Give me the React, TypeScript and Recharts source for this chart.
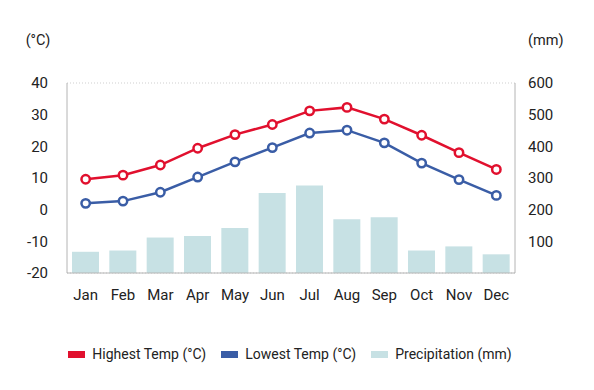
import { Bar, CartesianGrid, ComposedChart, Legend, Line, XAxis, YAxis } from "recharts";

const months = ["Jan", "Feb", "Mar", "Apr", "May", "Jun", "Jul", "Aug", "Sep", "Oct", "Nov", "Dec"];
const highTemp = [9.6, 10.9, 14.1, 19.4, 23.7, 26.9, 31.2, 32.3, 28.6, 23.5, 18.0, 12.7];
const lowTemp = [2.0, 2.7, 5.5, 10.3, 15.1, 19.6, 24.2, 25.1, 21.1, 14.7, 9.5, 4.5];
const precipitation = [67, 71, 112, 117, 142, 253, 276, 170, 176, 71, 84, 59];
const tempTicks = [-20, -10, 0, 10, 20, 30, 40];
const rainTicks = [100, 200, 300, 400, 500, 600];

const RED = "#e1102e";
const BLUE = "#3a5da6";
const RAIN = "#c7e1e4";
const TEXT = "#222";
const FONT = "Roboto, 'Noto Sans', sans-serif";

const data = months.map((month, i) => ({
  month,
  high: highTemp[i],
  low: lowTemp[i],
  rain: precipitation[i],
}));

const legendItems = [
  { label: "Highest Temp (°C)", color: RED },
  { label: "Lowest Temp (°C)", color: BLUE },
  { label: "Precipitation (mm)", color: RAIN },
];

function ChartLegend() {
  return (
    <div style={{ display: "flex", justifyContent: "center", gap: 15, fontFamily: FONT, fontSize: 14, color: TEXT }}>
      {legendItems.map((item) => (
        <div key={item.label} style={{ display: "flex", alignItems: "center", gap: 7 }}>
          <span style={{ display: "inline-block", width: 17, height: 7, background: item.color }} />
          <span>{item.label}</span>
        </div>
      ))}
    </div>
  );
}

function unitLabel(text: string, side: "left" | "right") {
  return (props: any) => {
    const vb = props.viewBox || {};
    const x = side === "left" ? vb.x + 38 : vb.x + 13;
    return (
      <text
        x={x}
        y={vb.y - 43}
        textAnchor={side === "left" ? "middle" : "start"}
        dominantBaseline="central"
        fill={TEXT}
        fontSize={14.5}
        fontFamily={FONT}
      >
        {text}
      </text>
    );
  };
}

export default function App() {
  const tick = { fill: TEXT, fontSize: 15, fontFamily: FONT };
  return (
    <div style={{ position: "absolute", left: 0, top: 0, background: "#fff" }}>
      <ComposedChart width={594} height={390} data={data} margin={{ top: 83, right: 0, bottom: 87, left: 0 }}>
        <CartesianGrid vertical={false} stroke="#cfcfcf" strokeDasharray="1 2" />
        <XAxis
          dataKey="month"
          height={30}
          tick={tick}
          tickLine={false}
          tickMargin={10}
          axisLine={{ stroke: "#b4b4b4" }}
        />
        <YAxis
          yAxisId="temp"
          width={67}
          domain={[-20, 40]}
          ticks={tempTicks}
          tick={tick}
          tickLine={false}
          tickMargin={13}
          axisLine={{ stroke: "#b4b4b4" }}
          label={unitLabel("(°C)", "left")}
        />
        <YAxis
          yAxisId="rain"
          orientation="right"
          width={79}
          domain={[0, 600]}
          ticks={rainTicks}
          tick={tick}
          tickLine={false}
          tickMargin={7}
          axisLine={{ stroke: "#b4b4b4" }}
          label={unitLabel("(mm)", "right")}
        />
        <Bar yAxisId="rain" dataKey="rain" fill={RAIN} barSize={27} isAnimationActive={false} />
        <Line
          yAxisId="temp"
          dataKey="high"
          stroke={RED}
          strokeWidth={2.5}
          dot={{ r: 4.2, fill: "#fff", stroke: RED, strokeWidth: 2.5 }}
          activeDot={false}
          isAnimationActive={false}
        />
        <Line
          yAxisId="temp"
          dataKey="low"
          stroke={BLUE}
          strokeWidth={2.5}
          dot={{ r: 4.2, fill: "#fff", stroke: BLUE, strokeWidth: 2.5 }}
          activeDot={false}
          isAnimationActive={false}
        />
        <Legend
          layout="horizontal"
          verticalAlign="middle"
          align="center"
          content={() => <ChartLegend />}
          wrapperStyle={{ top: 346, left: 0, width: 580, height: 20 }}
        />
      </ComposedChart>
    </div>
  );
}
